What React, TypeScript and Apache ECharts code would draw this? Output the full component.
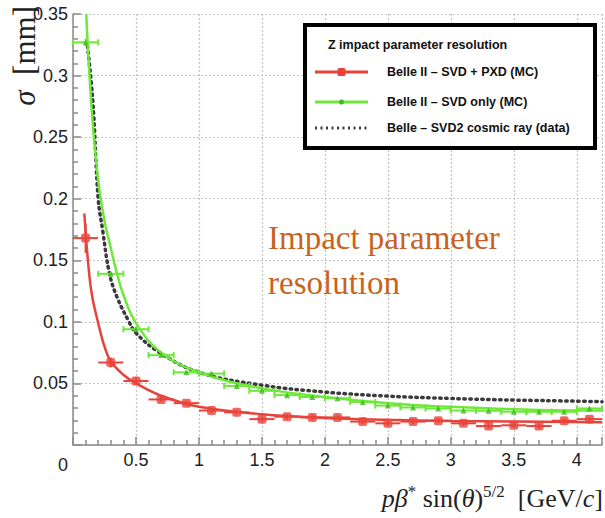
import React, { useEffect, useRef } from "react";
import * as echarts from "echarts";

// ---- Data ----
const binX = [0.1, 0.3, 0.5, 0.7, 0.9, 1.1, 1.3, 1.5, 1.7, 1.9, 2.1, 2.3, 2.5, 2.7, 2.9, 3.1, 3.3, 3.5, 3.7, 3.9, 4.1];
const binHalfWidth = 0.1;

const redY = [0.168, 0.067, 0.052, 0.037, 0.034, 0.028, 0.0265, 0.021, 0.023, 0.0224, 0.0224, 0.019, 0.0176, 0.019, 0.0197, 0.0176, 0.0154, 0.016, 0.0154, 0.0197, 0.021];
const redYErr = [0.012, 0.004, 0.003, 0.002, 0.002, 0.002, 0.002, 0.002, 0.002, 0.002, 0.002, 0.002, 0.002, 0.002, 0.002, 0.002, 0.002, 0.002, 0.002, 0.002, 0.002];

const greenY = [0.327, 0.139, 0.094, 0.073, 0.059, 0.058, 0.048, 0.044, 0.0405, 0.039, 0.038, 0.035, 0.032, 0.0305, 0.0297, 0.028, 0.0278, 0.027, 0.027, 0.027, 0.0297];
const greenYErr = [0.003, 0.002, 0.002, 0.001, 0.001, 0.001, 0.001, 0.001, 0.001, 0.001, 0.001, 0.001, 0.001, 0.001, 0.001, 0.001, 0.001, 0.001, 0.001, 0.001, 0.001];

// Fit curves
const redCurveX = [0.09, 0.12, 0.15, 0.2, 0.25, 0.3, 0.4, 0.5, 0.7, 1.0, 1.5, 2.0, 2.5, 3.0, 3.5, 4.2];
const redCurveY = [0.188, 0.148, 0.122, 0.099, 0.08, 0.068, 0.057, 0.05, 0.04, 0.031, 0.025, 0.022, 0.0205, 0.0195, 0.019, 0.0185];

const greenCurveX = [0.105, 0.15, 0.2, 0.25, 0.3, 0.35, 0.4, 0.5, 0.7, 1.0, 1.5, 2.0, 2.5, 3.0, 3.5, 4.0, 4.2];
const greenCurveY = [0.35, 0.27, 0.215, 0.182, 0.16, 0.139, 0.122, 0.099, 0.075, 0.059, 0.046, 0.039, 0.034, 0.031, 0.029, 0.028, 0.028];

const belleX = [0.115, 0.157, 0.2, 0.236, 0.29, 0.35, 0.44, 0.5, 0.68, 1.0, 1.5, 2.0, 2.5, 3.0, 3.5, 4.0, 4.2];
const belleY = [0.324, 0.28, 0.2, 0.174, 0.139, 0.12, 0.101, 0.091, 0.0756, 0.059, 0.0486, 0.043, 0.0397, 0.0378, 0.0365, 0.0356, 0.0352];

const legendTitle = "Z impact parameter resolution";
const legendNames = ["Belle II \u2013 SVD + PXD (MC)", "Belle II \u2013 SVD only (MC)", "Belle \u2013 SVD2 cosmic ray (data)"];
const annotationLines = ["Impact parameter", "resolution"];

const RED = "#e8433b";
const GREEN = "#6ee83a";
const DOT = "#3a3a3a";
const ORANGE = "#c8631f";
const SANS = "'Liberation Sans Narrow', 'Liberation Sans', Arial, sans-serif";
const LSANS = "'Liberation Sans', Arial, sans-serif";
const SERIF = "'Liberation Serif', 'Times New Roman', serif";

function zip(xs: number[], ys: number[]) {
  return xs.map((x, i) => [x, ys[i]]);
}

function errRender(color: string, caps: boolean) {
  return (params: any, api: any) => {
    const x = api.value(0);
    const y = api.value(1);
    const xe = api.value(2);
    const ye = api.value(3);
    const a = api.coord([x - xe, y]);
    const b = api.coord([x + xe, y]);
    const c = api.coord([x, y - ye]);
    const d = api.coord([x, y + ye]);
    const st = { stroke: color, lineWidth: 2 };
    const children: any[] = [
      { type: "line", shape: { x1: a[0], y1: a[1], x2: b[0], y2: b[1] }, style: st },
      { type: "line", shape: { x1: c[0], y1: c[1], x2: d[0], y2: d[1] }, style: st },
    ];
    if (caps) {
      children.push({ type: "line", shape: { x1: a[0], y1: a[1] - 3, x2: a[0], y2: a[1] + 3 }, style: st });
      children.push({ type: "line", shape: { x1: b[0], y1: b[1] - 3, x2: b[0], y2: b[1] + 3 }, style: st });
    }
    return { type: "group", children };
  };
}

export default function App() {
  const ref = useRef<HTMLDivElement>(null);
  useEffect(() => {
    if (!ref.current) return;
    const chart = echarts.init(ref.current, null, { renderer: "svg" });

    const redErrData = binX.map((x, i) => [x, redY[i], binHalfWidth, redYErr[i]]);
    const greenErrData = binX.map((x, i) => [x, greenY[i], binHalfWidth, greenYErr[i]]);

    const legX = 305, legY = 25, legW = 290, legH = 123;
    const sampleX1 = 315, sampleX2 = 368, textX = 387;
    const rowY = [72, 102, 128];

    chart.setOption({
      animation: false,
      backgroundColor: "#ffffff",
      grid: { left: 73, right: 0, top: 14, bottom: 73, containLabel: false },
      xAxis: {
        type: "value",
        min: 0,
        max: 4.2,
        interval: 0.5,
        axisLine: { show: true, lineStyle: { color: "#8a8a8a", width: 1.5 } },
        axisTick: { show: true, inside: true, length: 8, lineStyle: { color: "#8a8a8a", width: 1.5 } },
        minorTick: { show: true, splitNumber: 5, length: 5, lineStyle: { color: "#8a8a8a", width: 1.5 } },
        splitLine: { show: true, lineStyle: { color: "#c4c4c4", type: [2, 2], width: 1.2 } },
        axisLabel: {
          margin: 6,
          fontFamily: SANS,
          fontSize: 18,
          color: "#222",
          formatter: (v: number) => (v === 0 || Math.abs(v * 2 - Math.round(v * 2)) > 1e-6 ? "" : String(v)),
        },
      },
      yAxis: {
        type: "value",
        min: 0,
        max: 0.35,
        interval: 0.05,
        axisLine: { show: true, lineStyle: { color: "#8a8a8a", width: 1.5 } },
        axisTick: { show: true, inside: true, length: 8, lineStyle: { color: "#8a8a8a", width: 1.5 } },
        minorTick: { show: true, splitNumber: 5, length: 5, lineStyle: { color: "#8a8a8a", width: 1.5 } },
        splitLine: { show: true, lineStyle: { color: "#c4c4c4", type: [2, 2], width: 1.2 } },
        axisLabel: {
          margin: 5,
          fontFamily: SANS,
          fontSize: 18,
          color: "#222",
          formatter: (v: number) => (v === 0 ? "{z|0}" : String(Math.round(v * 100) / 100)),
          rich: { z: { fontFamily: SANS, fontSize: 18, color: "#222", padding: [40, 0, 0, 0] } },
        },
      },
      series: [
        {
          name: "belleCurve",
          type: "line",
          data: zip(belleX, belleY),
          smooth: 0.4,
          showSymbol: false,
          lineStyle: { color: DOT, width: 3.5, type: [1.5, 4.5], cap: "round" },
          z: 3,
        },
        {
          name: "greenCurve",
          type: "line",
          data: zip(greenCurveX, greenCurveY),
          smooth: 0.4,
          showSymbol: false,
          lineStyle: { color: GREEN, width: 2.5 },
          z: 4,
        },
        {
          name: "redCurve",
          type: "line",
          data: zip(redCurveX, redCurveY),
          smooth: 0.4,
          showSymbol: false,
          lineStyle: { color: RED, width: 2.5 },
          z: 4,
        },
        {
          name: "greenErr",
          type: "custom",
          data: greenErrData,
          renderItem: errRender(GREEN, true),
          z: 5,
        },
        {
          name: "redErr",
          type: "custom",
          data: redErrData,
          renderItem: errRender(RED, false),
          z: 5,
        },
        {
          name: legendNames[1],
          type: "scatter",
          data: zip(binX, greenY),
          symbol: "triangle",
          symbolSize: 6,
          itemStyle: { color: "#3fb81e" },
          z: 6,
        },
        {
          name: legendNames[0],
          type: "scatter",
          data: zip(binX, redY),
          symbol: "roundRect",
          symbolSize: 9,
          itemStyle: { color: RED },
          z: 6,
        },
      ],
      graphic: [
        // annotation
        {
          type: "text",
          x: 268,
          y: 238,
          z: 10,
          style: { text: annotationLines[0], fontFamily: SERIF, fontSize: 33, fill: ORANGE, verticalAlign: "middle", align: "left" },
        },
        {
          type: "text",
          x: 268,
          y: 283,
          z: 10,
          style: { text: annotationLines[1], fontFamily: SERIF, fontSize: 33, fill: ORANGE, verticalAlign: "middle", align: "left" },
        },
        // y axis title
        {
          type: "text",
          x: 24,
          y: 6,
          rotation: Math.PI / 2,
          z: 10,
          style: {
            text: "{s|\u03c3}  [mm]",
            fontFamily: SERIF,
            fontSize: 31,
            fill: "#222",
            align: "right",
            verticalAlign: "middle",
            rich: { s: { fontFamily: SERIF, fontSize: 31, fontStyle: "italic", fill: "#222" } },
          },
        },
        // x axis title
        {
          type: "text",
          x: 603,
          y: 497,
          z: 10,
          style: {
            text: "{i|p\u03b2}{sup|*}{n| sin(}{i|\u03b8}{n|)}{sup|5/2}{n|  [GeV/}{i|c}{n|]}",
            fontFamily: SERIF,
            fontSize: 26,
            fill: "#222",
            align: "right",
            verticalAlign: "middle",
            rich: {
              i: { fontFamily: SERIF, fontSize: 26, fontStyle: "italic", fill: "#222", lineHeight: 28, verticalAlign: "bottom" },
              n: { fontFamily: SERIF, fontSize: 26, fill: "#222", lineHeight: 28, verticalAlign: "bottom" },
              sup: { fontFamily: SERIF, fontSize: 17, fill: "#222", lineHeight: 17, verticalAlign: "top" },
            },
          },
        },
        // legend box
        {
          type: "rect",
          z: 20,
          shape: { x: legX, y: legY, width: legW, height: legH },
          style: { fill: "#ffffff", stroke: "#000000", lineWidth: 4 },
        },
        {
          type: "text",
          x: 328,
          y: 45,
          z: 21,
          style: { text: legendTitle, fontFamily: LSANS, fontWeight: "bold", fontSize: 12.5, fill: "#111", verticalAlign: "middle" },
        },
        {
          type: "line",
          z: 21,
          shape: { x1: sampleX1, y1: rowY[0], x2: sampleX2, y2: rowY[0] },
          style: { stroke: RED, lineWidth: 3 },
        },
        {
          type: "rect",
          z: 22,
          shape: { x: (sampleX1 + sampleX2) / 2 - 4, y: rowY[0] - 4, width: 8, height: 8, r: 1.5 },
          style: { fill: RED },
        },
        {
          type: "line",
          z: 21,
          shape: { x1: sampleX1, y1: rowY[1], x2: sampleX2, y2: rowY[1] },
          style: { stroke: GREEN, lineWidth: 3 },
        },
        {
          type: "circle",
          z: 22,
          shape: { cx: (sampleX1 + sampleX2) / 2, cy: rowY[1], r: 2.5 },
          style: { fill: "#3fb81e" },
        },
        {
          type: "line",
          z: 21,
          shape: { x1: sampleX1, y1: rowY[2], x2: sampleX2, y2: rowY[2] },
          style: { stroke: DOT, lineWidth: 3, lineDash: [2, 3.5] },
        },
        ...legendNames.map((name, i) => ({
          type: "text",
          x: textX,
          y: rowY[i],
          z: 21,
          style: { text: name, fontFamily: LSANS, fontWeight: "bold", fontSize: 12.5, fill: "#111", verticalAlign: "middle" },
        })),
      ],
    });
    return () => chart.dispose();
  }, []);
  return <div ref={ref} style={{ position: "fixed", left: 0, top: 0, width: 605, height: 518, background: "#fff" }} />;
}
